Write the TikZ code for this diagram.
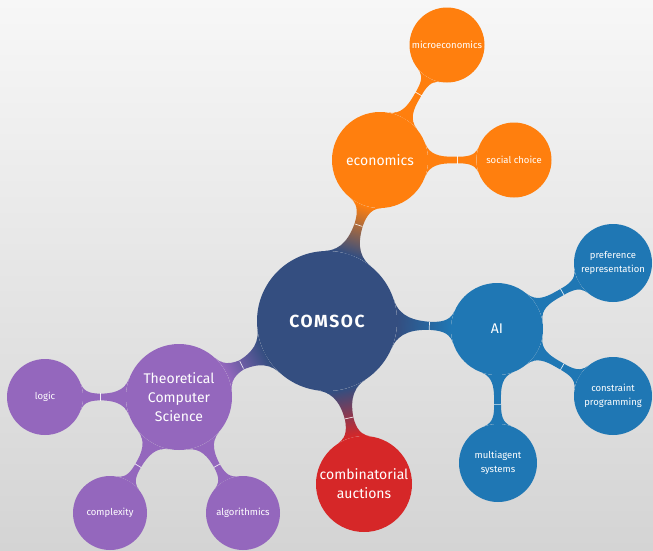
\documentclass[tikz,border=0pt]{standalone}
\usepackage{fontspec}
\setmainfont{Fira Sans}
\usetikzlibrary{mindmap}
\definecolor{cmain}{HTML}{344E80}
\definecolor{corange}{HTML}{FF7F0E}
\definecolor{cblue}{HTML}{1F77B4}
\definecolor{cred}{HTML}{D62728}
\definecolor{cpurple}{HTML}{9467BD}
\definecolor{bgtop}{HTML}{F7F7F7}
\definecolor{bgbot}{HTML}{D4D4D4}
\pgfdeclarelayer{bglayer}
\pgfdeclarelayer{connlayer}
\pgfsetlayers{bglayer,connlayer,main}
\begin{document}
\begin{tikzpicture}[x=1pt,y=-1pt,
  bubble/.style={circle, fill=#1, text=white, inner sep=0pt, align=center},
  big/.style={font=\fontsize{14}{19}\selectfont},
  small/.style={font=\fontsize{9.5}{14}\selectfont},
  link/.style={circle connection bar switch color=from (#1) to (#1)},
  seam/.style={pos=0.6, sloped, rectangle, fill=white, fill opacity=0.85,
    inner sep=0pt, minimum width=0.7pt, minimum height=#1},
  seam/.default=8pt]
  \begin{pgfonlayer}{bglayer}
    \shade[top color=bgtop, bottom color=bgbot] (0,0) rectangle (653,550);
  \end{pgfonlayer}
  \useasboundingbox (0,0) rectangle (653,550);

  % root
  \node[bubble=cmain, minimum size=140pt,
        font=\fontsize{17.5}{20}\selectfont\bfseries\addfontfeature{LetterSpace=9}] (comsoc) at (327,321) {COMSOC};

  % economics branch
  \node[bubble=corange, minimum size=96pt, big] (econ) at (380,160) {economics};
  \node[bubble=corange, minimum size=75pt, small] (micro) at (447,45) {microeconomics};
  \node[bubble=corange, minimum size=75pt, small] (social) at (514,160) {social choice};

  % AI branch
  \node[bubble=cblue, minimum size=92pt, big] (ai) at (497,329) {AI};
  \node[bubble=cblue, minimum size=78pt, small] (pref) at (613,263) {preference\\representation};
  \node[bubble=cblue, minimum size=78pt, small] (constr) at (613,396) {constraint\\programming};
  \node[bubble=cblue, minimum size=78pt, small] (multi) at (498,463) {multiagent\\systems};

  % auctions
  \node[bubble=cred, minimum size=96pt, big] (auct) at (364,484) {combinatorial\\auctions};

  % theory branch
  \node[bubble=cpurple, minimum size=106pt, big] (tcs) at (179,397) {Theoretical\\Computer\\Science};
  \node[bubble=cpurple, minimum size=76pt, small] (logic) at (45,397) {logic};
  \node[bubble=cpurple, minimum size=74pt, small] (complex) at (110,513) {complexity};
  \node[bubble=cpurple, minimum size=74pt, small] (algo) at (243,513) {algorithmics};

  \begin{pgfonlayer}{connlayer}
    % connection bars
    \path (comsoc) to[circle connection bar switch color=from (cmain) to (corange)] (econ);
    \path (comsoc) to[circle connection bar switch color=from (cmain) to (cblue)] (ai);
    \path (comsoc) to[circle connection bar switch color=from (cmain) to (cred)] (auct);
    \path (comsoc) to[circle connection bar switch color=from (cmain) to (cpurple)] (tcs);
    \path (econ) to[link=corange] (micro);
    \path (econ) to[link=corange] (social);
    \path (ai) to[link=cblue] (pref);
    \path (ai) to[link=cblue] (constr);
    \path (ai) to[link=cblue] (multi);
    \path (tcs) to[link=cpurple] (logic);
    \path (tcs) to[link=cpurple] (complex);
    \path (tcs) to[link=cpurple] (algo);
    % thin seams across each bar
    \path (comsoc) -- node[seam] (s1) {} (econ);
    \path (comsoc) -- node[seam] (s2) {} (ai);
    \path (comsoc) -- node[seam] (s3) {} (auct);
    \path (comsoc) -- node[seam] (s4) {} (tcs);
    \path (econ) -- node[seam] (s5) {} (micro);
    \path (econ) -- node[seam] (s6) {} (social);
    \path (ai) -- node[seam=7pt] (s7) {} (pref);
    \path (ai) -- node[seam=7pt] (s8) {} (constr);
    \path (ai) -- node[seam=7pt] (s9) {} (multi);
    \path (tcs) -- node[seam] (s10) {} (logic);
    \path (tcs) -- node[seam=7pt] (s11) {} (complex);
    \path (tcs) -- node[seam=7pt] (s12) {} (algo);
  \end{pgfonlayer}
\end{tikzpicture}
\end{document}
